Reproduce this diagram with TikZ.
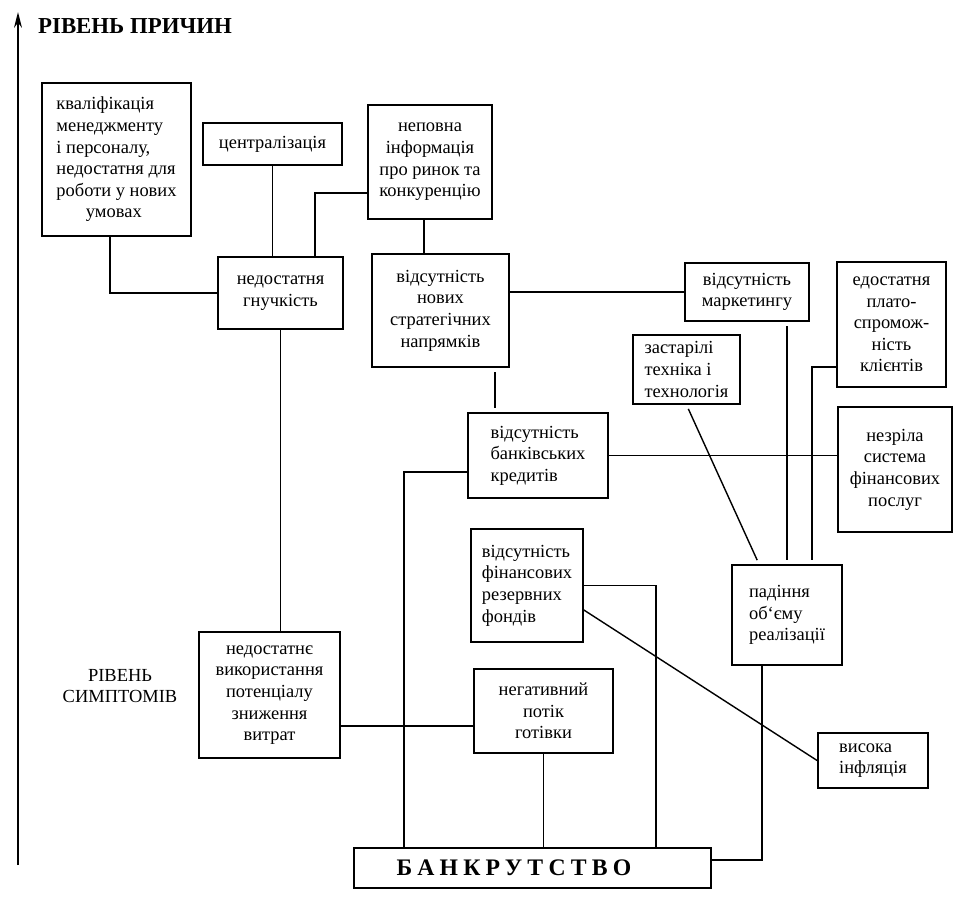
\documentclass[tikz,border=0pt]{standalone}
\usepackage{fontspec}
\setmainfont{Liberation Serif}
\newfontfamily\widefont[LetterSpace=22]{Liberation Serif}
\usetikzlibrary{calc,arrows.meta}

\tikzset{
	box/.style={draw, line width=1pt, inner sep=2pt, align=center,
		font=\fontsize{10.5}{12.3}\selectfont},
	link/.style={line width=0.8pt},
	gap/.style={shorten <=2.5pt, shorten >=2.5pt},
}

\begin{document}
\begin{tikzpicture}[x=0.02cm,y=-0.02cm]
		\useasboundingbox (0,0) rectangle (966,897);

		\coordinate (axisbottom) at (18,865);
		\coordinate (axistop) at (18,12);
		\draw[line width=0.8pt,-{Stealth[length=9pt,width=4.5pt]}] (axisbottom) -- (axistop);

		\node[font=\bfseries\fontsize{13}{15}\selectfont] (causes) at (135,26) {РІВЕНЬ ПРИЧИН};
		\node[align=center, font=\fontsize{10.5}{12.3}\selectfont] (symptoms) at (120,686) {РІВЕНЬ\\СИМПТОМІВ};

		\node[box, align=left, minimum width=2.98cm, minimum height=3.06cm] (kval) at (116.5,159.5)
			{кваліфікація\\менеджменту\\і персоналу,\\недостатня для\\роботи у нових\\\hspace*{1.6em}умовах};
		\node[box, minimum width=2.78cm, minimum height=0.84cm] (centr) at (272.5,144) {централізація};
		\node[box, minimum width=2.48cm, minimum height=2.28cm] (inform) at (430,162)
			{неповна\\інформація\\про ринок та\\конкуренцію};
		\node[box, minimum width=2.5cm, minimum height=1.44cm] (gnuch) at (280.5,293) {недостатня\\гнучкість};
		\node[box, minimum width=2.74cm, minimum height=2.26cm] (strat) at (440.5,310.5)
			{відсутність\\нових\\стратегічних\\напрямків};
		\node[box, minimum width=2.48cm, minimum height=1.16cm] (market) at (747,292) {відсутність\\маркетингу};
		\node[box, minimum width=2.18cm, minimum height=2.5cm] (platos) at (891.5,324.5)
			{едостатня\\плато-\\спромож-\\ність\\клієнтів};
		\node[box, align=left, minimum width=2.14cm, minimum height=1.38cm] (tekhn) at (686.5,369.5)
			{застарілі\\техніка і\\технологія};
		\node[box, minimum width=2.28cm, minimum height=2.5cm] (nezril) at (895,469.5)
			{незріла\\система\\фінансових\\послуг};
		\node[box, align=left, minimum width=2.8cm, minimum height=1.7cm] (kredyt) at (538,455.5)
			{відсутність\\банківських\\кредитів};
		\node[box, align=left, minimum width=2.24cm, minimum height=2.26cm] (fondy) at (527,585.5)
			{відсутність\\фінансових\\резервних\\фондів};
		\node[box, align=left, minimum width=2.2cm, minimum height=2cm] (padin) at (787,615)
			{падіння\\об‘єму\\реалізації};
		\node[box, minimum width=2.82cm, minimum height=2.52cm] (vytrat) at (269.5,695)
			{недостатнє\\використання\\потенціалу\\зниження\\витрат};
		\node[box, minimum width=2.78cm, minimum height=1.68cm] (potik) at (543.5,711)
			{негативний\\потік\\готівки};
		\node[box, align=left, minimum width=2.2cm, minimum height=1.1cm] (inflyac) at (873,760.5)
			{висока\\інфляція};
		\node[box, minimum width=7.14cm, minimum height=0.8cm, font=\widefont\bfseries\fontsize{13.5}{15}\selectfont]
			(bankr) at (532.5,868) {БАНКРУТСТВО\hspace*{21pt}};

		\foreach \a/\b in {centr/gnuch, gnuch/vytrat, potik/bankr}
		{
			\draw[link] (\a.south) -- (\a.south |- \b.north);
		}

		\draw[link] ($(kval.south)+(-6.5,0)$) |- (gnuch.west);
		\draw[link] ($(inform.west)+(0,31)$) -| ($(gnuch.north)+(34.5,0)$);
		\draw[link] ($(inform.south)+(-6,0)$) coordinate (e) -- (e |- strat.north);
		\draw[link] (market.west) -- (market.west -| strat.east);
		\draw[link, gap] ($(strat.south)+(54.5,0)$) coordinate (g) -- (g |- kredyt.north);
		\draw[link, gap] (market.south -| padin.north) -- (padin.north);
		\draw[link, shorten >=2.5pt] ($(platos.west)+(0,42.5)$) -| ($(padin.north)+(25,0)$);
		\draw[link] (kredyt.east) -- (kredyt.east -| nezril.west);
		\draw[link, gap] (tekhn.south) -- ($(padin.north)+(-28,0)$);
		\draw[link] ($(kredyt.west)+(0,16.5)$) -| ($(bankr.north west)+(51,0)$);
		\draw[link] ($(vytrat.east)+(0,31)$) coordinate (m) -- (m -| potik.west);
		\draw[link] (fondy.east) -| ($(bankr.north east)+(-56,0)$);
		\draw[link] ($(fondy.east)+(0,24.5)$) -- (inflyac.west);
		\draw[link] ($(padin.south)+(-25,0)$) |- ($(bankr.east)+(0,-8)$);

\end{tikzpicture}
\end{document}
